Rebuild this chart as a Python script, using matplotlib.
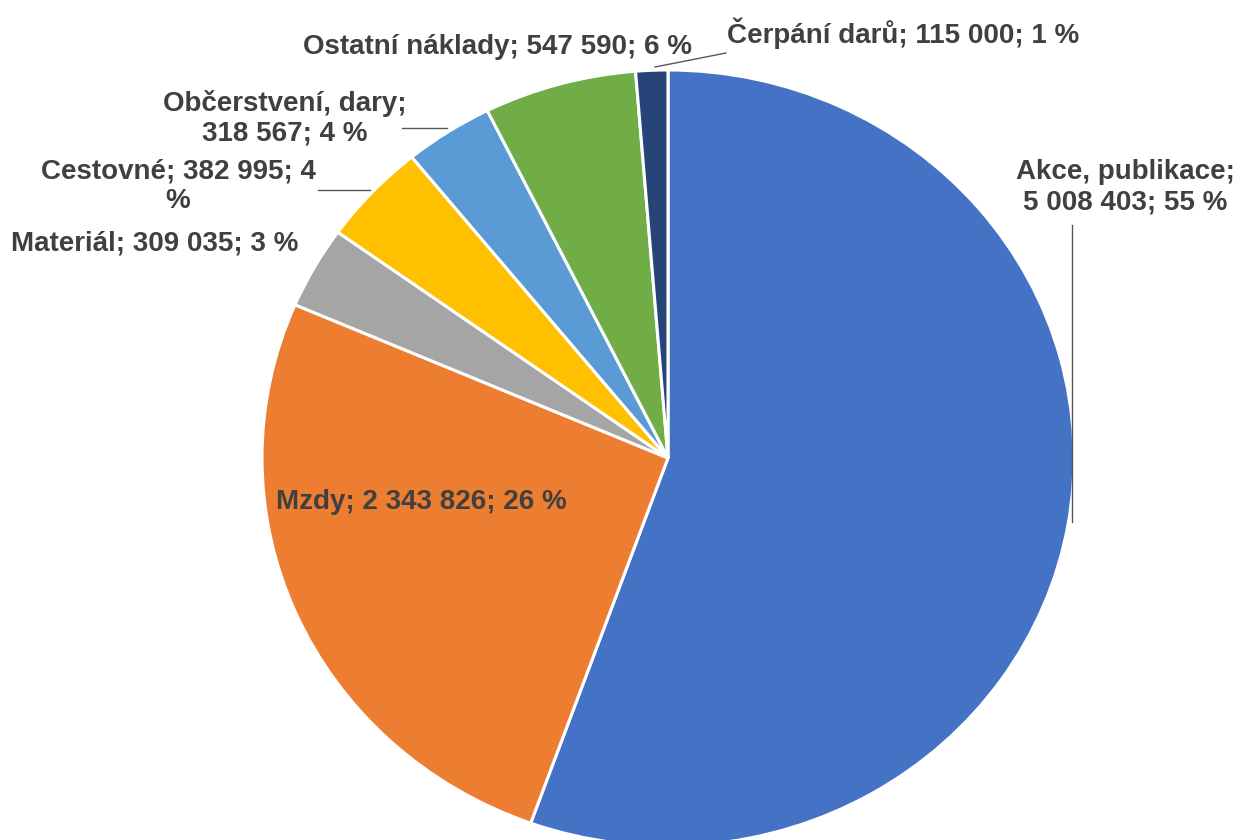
import numpy as np
import matplotlib
matplotlib.use('Agg')
import matplotlib.pyplot as plt

plt.rcParams['font.family'] = ['Liberation Sans Narrow', 'Liberation Sans', 'DejaVu Sans']

# data
categories = ['Akce, publikace', 'Mzdy', 'Materiál', 'Cestovné',
              'Občerstvení, dary', 'Ostatní náklady', 'Čerpání darů']
values = [5008403, 2343826, 309035, 382995, 318567, 547590, 115000]
colors = ['#4472C4', '#ED7D31', '#A5A5A5', '#FFC000', '#5B9BD5', '#70AD47', '#264478']


def fmt(v):
    return f'{v:,}'.replace(',', ' ')


total = sum(values)
pct = [round(v / total * 100) for v in values]
labels = [f'{c}; {fmt(v)}; {p} %' for c, v, p in zip(categories, values, pct)]
# manual line breaks like the original
labels[0] = f'{categories[0]};\n{fmt(values[0])}; {pct[0]} %'
labels[3] = f'{categories[3]}; {fmt(values[3])}; {pct[3]}\n%'
labels[4] = f'{categories[4]};\n{fmt(values[4])}; {pct[4]} %'

W, H = 1237, 840
cx, cy = 668, 458     # pie centre in pixels
Rx, Ry = 406, 388     # the original is slightly stretched sideways

fig = plt.figure(figsize=(W / 100, H / 100), dpi=100)
ax = fig.add_axes([0, 0, 1, 1])

ax.pie(values, colors=colors, startangle=90, counterclock=False, radius=1,
       wedgeprops=dict(edgecolor='white', linewidth=2.2))

# pie() resets the limits, set them afterwards
ax.set_aspect('auto')
ax.set_xlim(-cx / Rx, (W - cx) / Rx)
ax.set_ylim((cy - H) / Ry, cy / Ry)
ax.axis('off')


def px(x, y):
    return (x - cx) / Rx, (cy - y) / Ry


tc = '#404040'
fs = 20
# label positions (pixels)
label_pos = [
    (1125, 187),
    (421, 502),
    (155, 243),
    (178, 186),
    (285, 118),
    (498, 47),
    (903, 33),
]
for lab, (x, y) in zip(labels, label_pos):
    ax.text(*px(x, y), lab, ha='center', va='center', fontsize=fs, fontweight='bold',
            color=tc, linespacing=1.2)

# leader lines
leaders = [
    [(1072, 225), (1072, 522)],
    [(318, 190), (370, 190)],
    [(402, 128), (447, 128)],
    [(655, 67), (726, 53)],
]
for (x0, y0), (x1, y1) in leaders:
    a, b = px(x0, y0)
    c, d = px(x1, y1)
    ax.plot([a, c], [b, d], color='#595959', lw=1.0)

fig.savefig('out.png', dpi=100, facecolor='white')
